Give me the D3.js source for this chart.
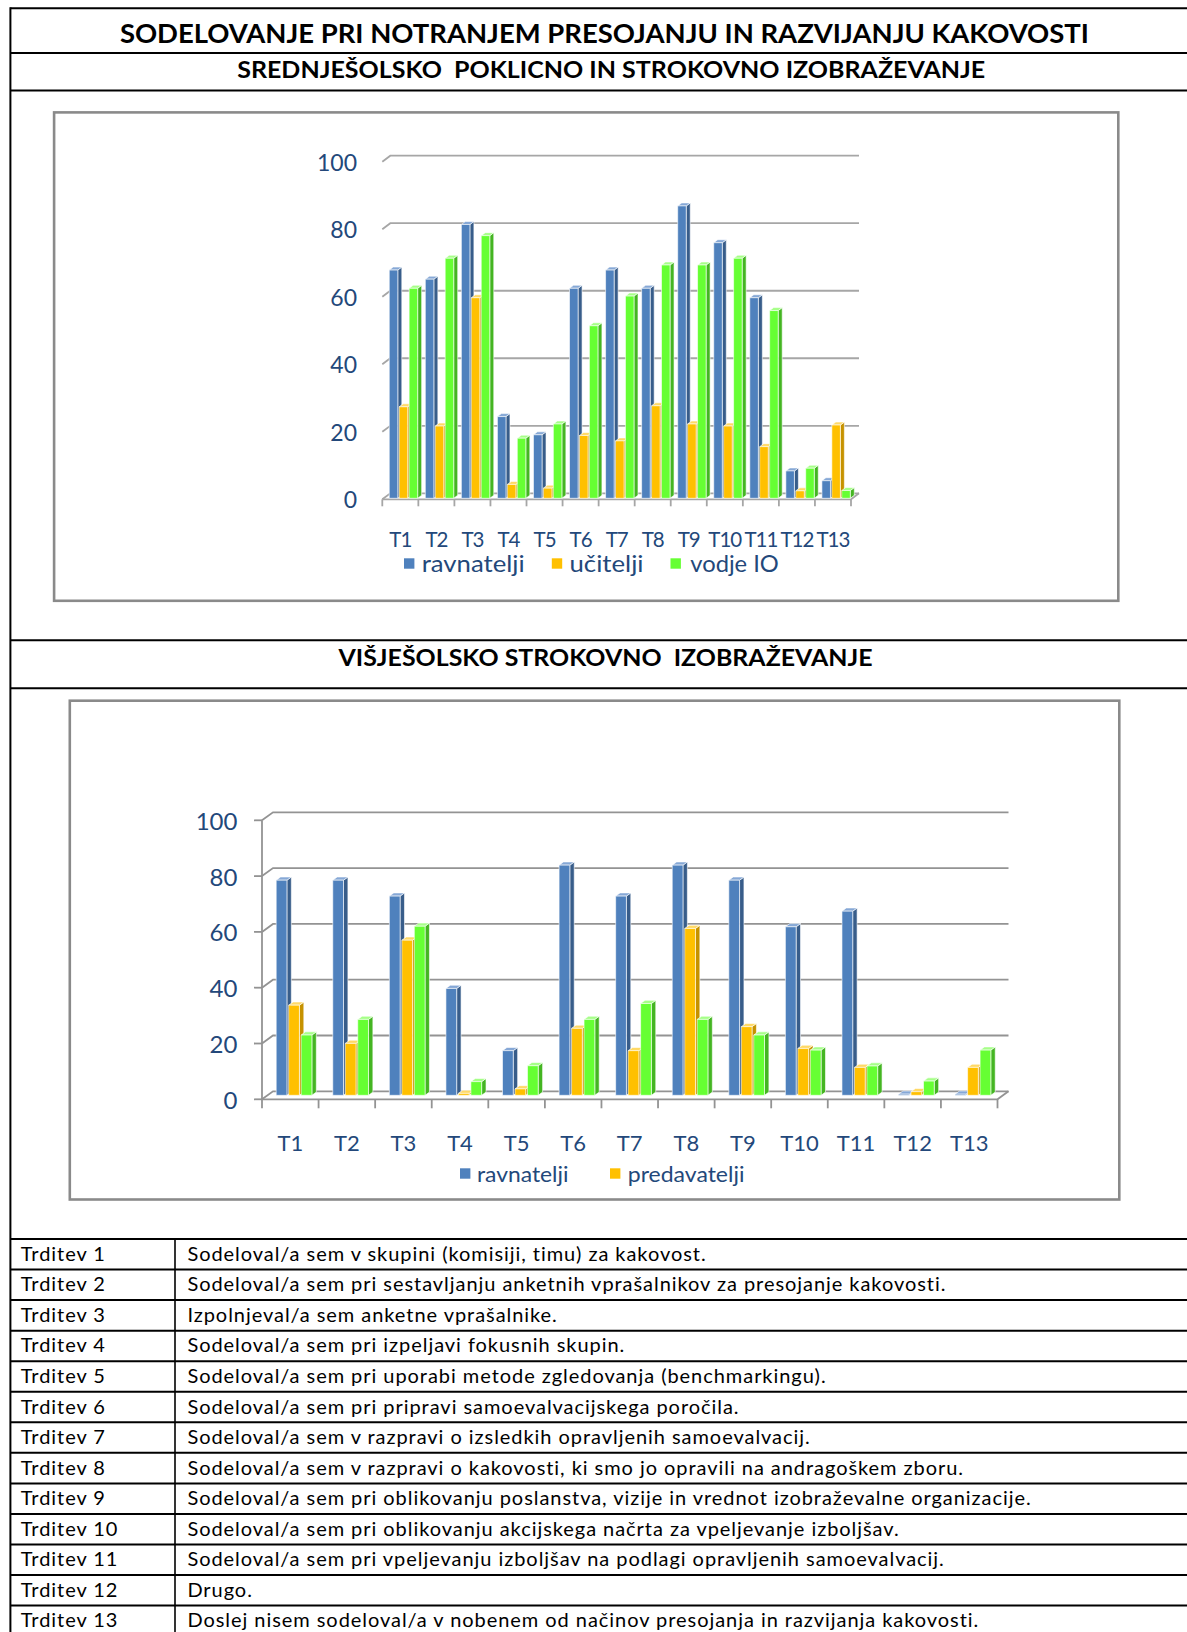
<!DOCTYPE html>
<html>
<head>
<meta charset="utf-8">
<script src="https://cdn.jsdelivr.net/npm/d3@7"></script>
<style>
  html, body { margin: 0; padding: 0; background: #fff; }
  svg { display: block; }
  text { font-family: Lato, "Open Sans", "Noto Sans", sans-serif; white-space: pre; }
</style>
</head>
<body>
<svg id="page" width="1187" height="1632"></svg>
<script>
// ---- data ----
const categories = ["T1","T2","T3","T4","T5","T6","T7","T8","T9","T10","T11","T12","T13"];
const yTicks = [0, 20, 40, 60, 80, 100];

// Srednješolsko poklicno in strokovno izobraževanje
const seriesSrednje = ["ravnatelji", "učitelji", "vodje IO"];
const ravnateljiSrednje = [67.6, 64.9, 81.1, 24.2, 18.8, 62.2, 67.6, 62.2, 86.6, 75.7, 59.4, 8.1, 5.2];
const uciteljiSrednje   = [27.1, 21.4, 59.4, 4.1, 3.0, 18.6, 17.0, 27.4, 22.0, 21.4, 15.3, 2.2, 21.7];
const vodjeIOSrednje    = [62.2, 71.1, 77.8, 17.8, 22.0, 51.1, 59.9, 69.1, 69.1, 71.1, 55.6, 8.9, 2.3];

// Višješolsko strokovno izobraževanje
const seriesVisje = ["ravnatelji", "predavatelji"];
const ravnateljiVisje   = [77.1, 77.1, 71.4, 38.3, 16.0, 82.5, 71.4, 82.5, 77.1, 60.4, 66.0, 0.4, 0.4];
const predavateljiVisje = [32.3, 18.6, 55.6, 0.7, 2.3, 24.0, 16.0, 59.8, 24.6, 16.8, 10.0, 1.3, 10.0];
const tretjiStolpecVisje = [21.6, 27.2, 60.6, 4.9, 10.6, 27.2, 32.9, 27.2, 21.6, 16.2, 10.5, 5.1, 16.2];

const statementLabels = ["Trditev 1","Trditev 2","Trditev 3","Trditev 4","Trditev 5","Trditev 6","Trditev 7",
  "Trditev 8","Trditev 9","Trditev 10","Trditev 11","Trditev 12","Trditev 13"];
const statementTexts = [
  "Sodeloval/a sem v skupini (komisiji, timu) za kakovost.",
  "Sodeloval/a sem pri sestavljanju anketnih vprašalnikov za presojanje kakovosti.",
  "Izpolnjeval/a sem anketne vprašalnike.",
  "Sodeloval/a sem pri izpeljavi fokusnih skupin.",
  "Sodeloval/a sem pri uporabi metode zgledovanja (benchmarkingu).",
  "Sodeloval/a sem pri pripravi samoevalvacijskega poročila.",
  "Sodeloval/a sem v razpravi o izsledkih opravljenih samoevalvacij.",
  "Sodeloval/a sem v razpravi o kakovosti, ki smo jo opravili na andragoškem zboru.",
  "Sodeloval/a sem pri oblikovanju poslanstva, vizije in vrednot izobraževalne organizacije.",
  "Sodeloval/a sem pri oblikovanju akcijskega načrta za vpeljevanje izboljšav.",
  "Sodeloval/a sem pri vpeljevanju izboljšav na podlagi opravljenih samoevalvacij.",
  "Drugo.",
  "Doslej nisem sodeloval/a v nobenem od načinov presojanja in razvijanja kakovosti."
];

// ---- palette for the 3D columns ----
const palette = [
  { front: "#4F81BD", side: "#385D8A", top: "#86A8D6" },
  { front: "#FFC000", side: "#C69200", top: "#FFD966" },
  { front: "#66FF33", side: "#44B522", top: "#A6FF88" }
];
const textBlue = "#23487A";

const svg = d3.select("#page");

// ---- document frame & title rows ----
const pageLeft = 10.4, pageRight = 1190;
const rowLines = [8.3, 53.1, 90.6, 640.3, 688.2];
const tableTop = 1239, rowH = 30.55, colSplit = 175;

const frameG = svg.append("g").attr("stroke", "#000").attr("stroke-width", 2);
rowLines.forEach(y => frameG.append("line").attr("x1", pageLeft).attr("x2", pageRight).attr("y1", y).attr("y2", y));
statementTexts.forEach((_, i) => {
  const y = tableTop + i * rowH;
  frameG.append("line").attr("x1", pageLeft).attr("x2", pageRight).attr("y1", y).attr("y2", y);
});
frameG.append("line").attr("x1", pageLeft).attr("x2", pageRight)
  .attr("y1", tableTop + statementTexts.length * rowH).attr("y2", tableTop + statementTexts.length * rowH);
frameG.append("line").attr("x1", pageLeft).attr("x2", pageLeft).attr("y1", 7.3).attr("y2", 1640);
frameG.append("line").attr("x1", colSplit).attr("x2", colSplit).attr("stroke-width", 1.6)
  .attr("y1", tableTop).attr("y2", 1640);

function heading(txt, cx, cy, size, width) {
  svg.append("text").attr("x", cx).attr("y", cy)
    .attr("text-anchor", "middle").attr("dominant-baseline", "central")
    .attr("font-weight", 700).attr("font-size", size).attr("fill", "#000")
    .attr("textLength", width).attr("lengthAdjust", "spacingAndGlyphs")
    .text(txt);
}
heading("SODELOVANJE PRI NOTRANJEM PRESOJANJU IN RAZVIJANJU KAKOVOSTI", 604.4, 32.5, 27, 969);
heading("SREDNJEŠOLSKO  POKLICNO IN STROKOVNO IZOBRAŽEVANJE", 611.2, 69.5, 22.5, 748);
heading("VIŠJEŠOLSKO STROKOVNO  IZOBRAŽEVANJE", 605.5, 657, 22.5, 534);

// ---- 3D clustered column chart ----
function columnChart3D(cfg, seriesValues, legendNames) {
  const g = svg.append("g");
  const [fx0, fy0, fx1, fy1] = cfg.frame;
  g.append("rect").attr("x", fx0).attr("y", fy0).attr("width", fx1 - fx0).attr("height", fy1 - fy0)
    .attr("fill", "#fff").attr("stroke", "#8A8A8A").attr("stroke-width", 2.6);

  const x = d3.scaleBand().domain(categories).range([cfg.x0, cfg.x1]);
  const y = d3.scaleLinear().domain([0, 100]).range([cfg.yFront, cfg.yFront - cfg.plotH]);
  const step = x.step();
  const inner = d3.scaleBand().domain(d3.range(seriesValues.length))
    .range([step * cfg.inner[0], step * cfg.inner[1]]).paddingInner(0.14);
  const { dx, dy, f0, f1 } = cfg;

  // back-wall gridlines with the short side-wall segment on the left
  const grid = g.append("g").attr("stroke", cfg.gridColor).attr("stroke-width", 1.8).attr("fill", "none");
  yTicks.forEach(t => {
    grid.append("path").attr("d", d3.line()([
      [cfg.x0, y(t)], [cfg.x0 + dx, y(t) + dy], [cfg.x1 + dx, y(t) + dy]
    ]));
  });
  // floor outline
  grid.append("path").attr("d", d3.line()([
    [cfg.x0, cfg.yFront], [cfg.x1, cfg.yFront], [cfg.x1 + dx, cfg.yFront + dy]
  ]));
  // category tick marks under the floor edge
  d3.range(categories.length + 1).forEach(i => {
    const xt = cfg.x0 + i * step;
    grid.append("line").attr("x1", xt).attr("x2", xt)
      .attr("y1", cfg.yFront).attr("y2", cfg.yFront + cfg.tickLen);
  });
  if (cfg.frontAxis) {
    grid.append("line").attr("x1", cfg.x0).attr("x2", cfg.x0).attr("y1", y(0)).attr("y2", y(100));
    yTicks.forEach(t => grid.append("line").attr("x1", cfg.x0 - 8).attr("x2", cfg.x0)
      .attr("y1", y(t)).attr("y2", y(t)));
  }

  // columns
  const bars = g.append("g").attr("stroke", "rgba(255,255,255,0.75)").attr("stroke-width", 0.8)
    .attr("stroke-linejoin", "round");
  categories.forEach((c, ci) => {
    seriesValues.forEach((vals, si) => {
      const v = vals[ci];
      const col = palette[si];
      const xl = x(c) + inner(si), xr = xl + inner.bandwidth();
      const yt = y(v), yb = y(0);
      const p = (xx, yy, f) => [xx + dx * f, yy + dy * f];
      bars.append("path").attr("fill", col.side).attr("d", d3.line()([
        p(xr, yt, f0), p(xr, yt, f1), p(xr, yb, f1), p(xr, yb, f0)
      ]) + "Z");
      bars.append("path").attr("fill", col.top).attr("d", d3.line()([
        p(xl, yt, f0), p(xl, yt, f1), p(xr, yt, f1), p(xr, yt, f0)
      ]) + "Z");
      const [ax, ay] = p(xl, yt, f0);
      const [, by] = p(xl, yb, f0);
      bars.append("rect").attr("fill", col.front)
        .attr("x", ax).attr("y", ay).attr("width", xr - xl).attr("height", Math.max(0, by - ay));
    });
  });

  // value axis labels
  g.append("g").selectAll("text").data(yTicks).join("text")
    .attr("x", cfg.yLabelRight).attr("y", d => y(d))
    .attr("text-anchor", "end").attr("dominant-baseline", "central")
    .attr("font-size", cfg.yLabelSize).attr("fill", textBlue)
    .text(d => d);

  // category labels
  g.append("g").selectAll("text").data(categories).join("text")
    .attr("x", d => x(d) + step / 2).attr("y", cfg.catY)
    .attr("text-anchor", "middle").attr("dominant-baseline", "central")
    .attr("font-size", cfg.catSize).attr("fill", textBlue)
    .attr("letter-spacing", cfg.catSpacing)
    .text(d => d);

  // legend
  const lg = g.append("g");
  legendNames.forEach((name, i) => {
    const it = cfg.legend[i];
    lg.append("rect").attr("x", it.sq).attr("y", cfg.legendY - 5.2).attr("width", 10.4).attr("height", 10.4)
      .attr("fill", palette[i].front);
    lg.append("text").attr("x", it.tx).attr("y", cfg.legendY)
      .attr("dominant-baseline", "central").attr("font-size", cfg.legendSize).attr("fill", textBlue)
      .attr("textLength", it.w).attr("lengthAdjust", "spacingAndGlyphs")
      .text(name);
  });
}

columnChart3D({
  frame: [54.1, 112.4, 1118.3, 600.8],
  x0: 382.3, x1: 851, yFront: 499.3, plotH: 337.6,
  dx: 8, dy: -6, f0: 0.17, f1: 0.67,
  inner: [5.6 / 36.05, 34 / 36.05],
  gridColor: "#A6A6A6", tickLen: 7, frontAxis: false,
  yLabelRight: 357, yLabelSize: 23,
  catY: 538.5, catSize: 20.5, catSpacing: -1,
  legendY: 563.5, legendSize: 22.5,
  legend: [{ sq: 404, tx: 421.7, w: 103 }, { sq: 551.8, tx: 569.5, w: 74 }, { sq: 670.5, tx: 690.3, w: 88.5 }]
}, [ravnateljiSrednje, uciteljiSrednje, vodjeIOSrednje], seriesSrednje);

columnChart3D({
  frame: [69.8, 700.7, 1119.3, 1199.5],
  x0: 262, x1: 997.5, yFront: 1099.3, plotH: 279,
  dx: 11, dy: -8, f0: 0.5, f1: 0.9,
  inner: [8.7 / 56.58, 44.4 / 56.58],
  gridColor: "#939393", tickLen: 9, frontAxis: true,
  yLabelRight: 237.4, yLabelSize: 24,
  catY: 1142, catSize: 22, catSpacing: 0,
  legendY: 1173.5, legendSize: 22,
  legend: [{ sq: 460, tx: 476.9, w: 91.6 }, { sq: 610, tx: 627.8, w: 116.7 }]
}, [ravnateljiVisje, predavateljiVisje, tretjiStolpecVisje], seriesVisje);

// ---- statements table ----
const tbl = svg.append("g").attr("font-size", 20).attr("letter-spacing", 0.95).attr("fill", "#000");
statementTexts.forEach((t, i) => {
  const cy = tableTop + i * rowH + rowH / 2 - 1.5;
  tbl.append("text").attr("x", 20.8).attr("y", cy).attr("dominant-baseline", "central").text(statementLabels[i]);
  tbl.append("text").attr("x", 187.4).attr("y", cy).attr("dominant-baseline", "central").text(t);
});
</script>
</body>
</html>
